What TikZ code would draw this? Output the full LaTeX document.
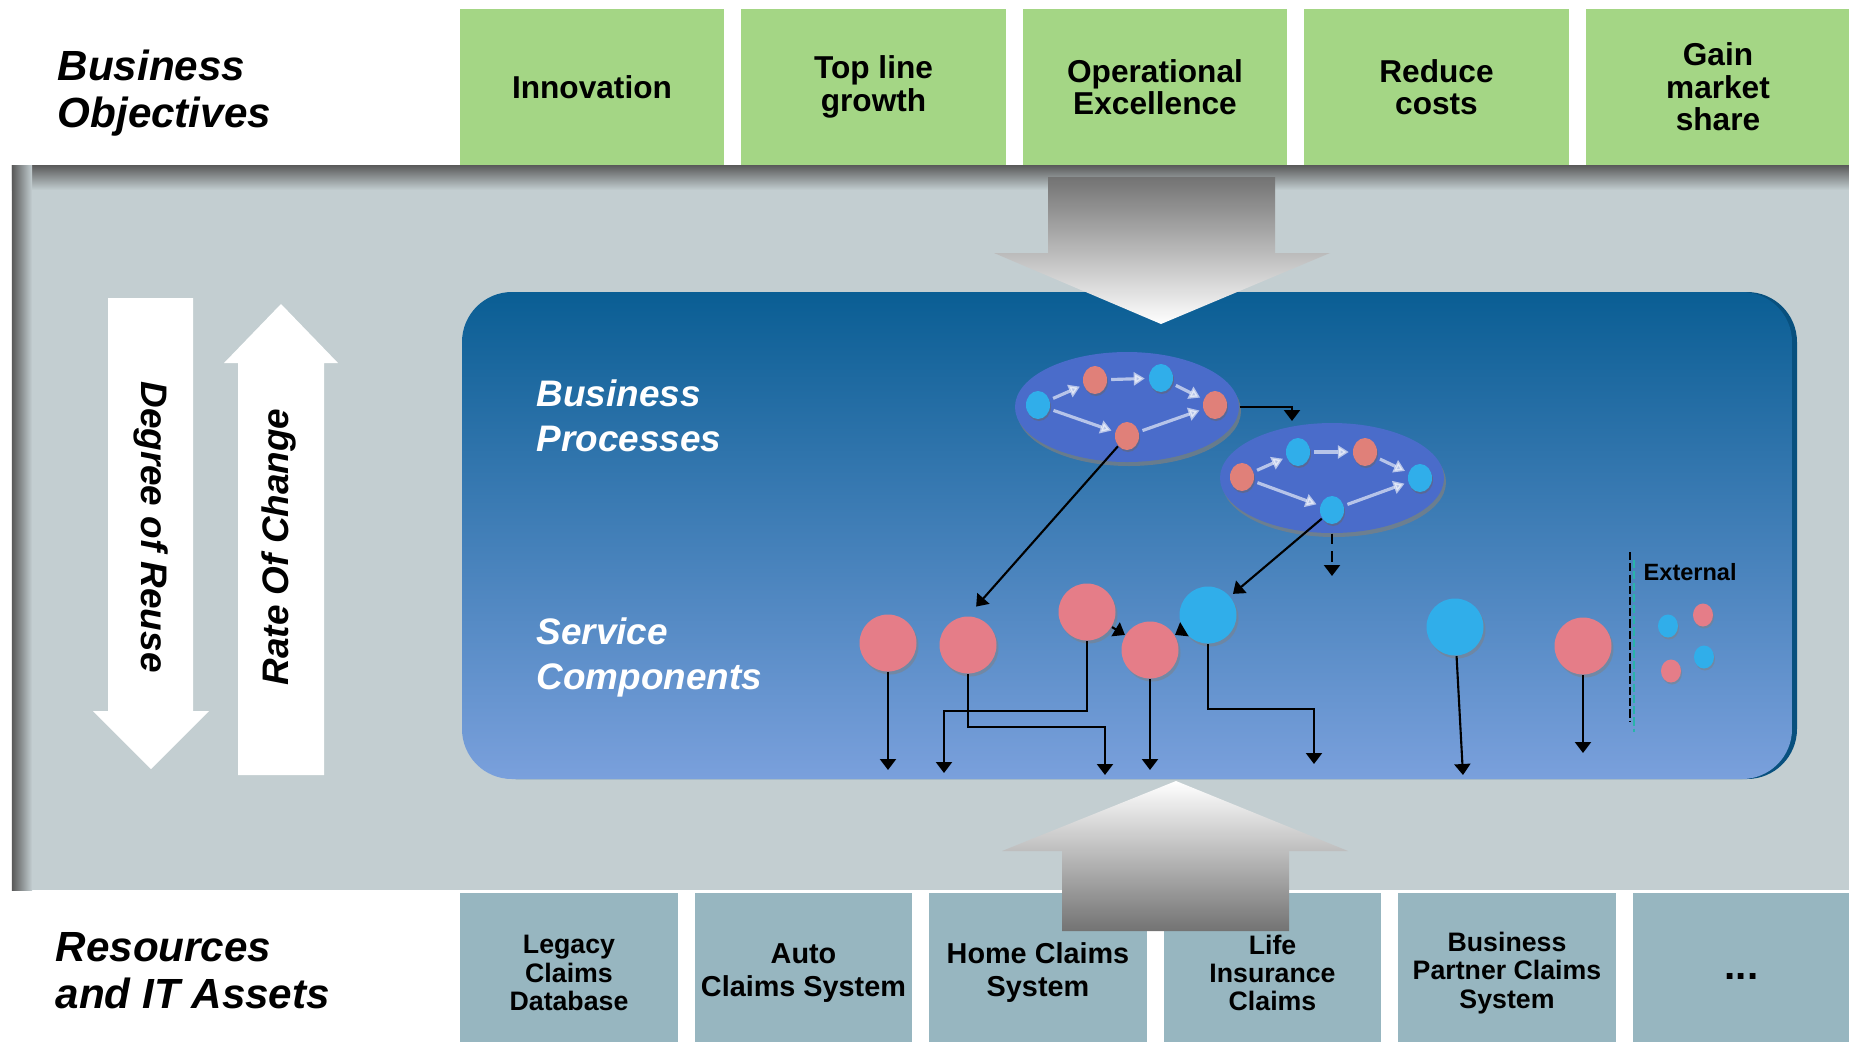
\documentclass[tikz,border=0pt]{standalone}
\usepackage{fontspec}
\setmainfont{Liberation Sans}
\usepackage{tikz}
\usetikzlibrary{shapes.geometric, arrows.meta, positioning, shadows}

\definecolor{goalgreen}{RGB}{164,214,133}
\definecolor{assetblue}{RGB}{151,182,192}
\definecolor{panelgray}{RGB}{195,206,209}
\definecolor{deepblue}{RGB}{10,94,148}
\definecolor{lightblue}{RGB}{122,160,220}
\definecolor{procblue}{RGB}{74,108,202}
\definecolor{svcred}{RGB}{229,125,136}
\definecolor{svccyan}{RGB}{48,174,234}
\definecolor{dotred}{RGB}{224,128,121}
\definecolor{extteal}{RGB}{40,180,170}

\begin{document}
\begin{tikzpicture}[x=1cm, y=-1cm,
        node distance=0.17cm,
        goal/.style={rectangle, fill=goalgreen, minimum width=2.645cm, minimum height=1.56cm, inner sep=0pt, outer sep=0pt, align=center, font=\fontsize{9}{9.2}\selectfont\bfseries},
        asset/.style={rectangle, fill=assetblue, minimum width=2.175cm, minimum height=1.60cm, inner sep=0pt, outer sep=0pt, align=center, font=\fontsize{7.6}{8}\selectfont\bfseries},
        heading/.style={anchor=west, inner sep=0pt, align=left, font=\fontsize{12}{13.4}\selectfont\bfseries\itshape},
        layer/.style={anchor=west, inner sep=0pt, align=left, text=white, font=\fontsize{10.5}{12.8}\selectfont\bfseries\itshape},
        process/.style={ellipse, fill=procblue, minimum width=2.24cm, minimum height=1.10cm, drop shadow={shadow xshift=0.02cm, shadow yshift=-0.04cm, fill=black!50, opacity=0.7}},
        pdot/.style={ellipse, minimum width=0.24cm, minimum height=0.28cm, inner sep=0pt, drop shadow={shadow xshift=0.01cm, shadow yshift=-0.02cm, fill=black!60, opacity=0.5}},
        svc/.style={circle, minimum size=0.57cm, inner sep=0pt, drop shadow={shadow xshift=0.02cm, shadow yshift=-0.03cm, fill=black!50, opacity=0.5}},
        xdot/.style={ellipse, minimum width=0.20cm, minimum height=0.23cm, inner sep=0pt, drop shadow={shadow xshift=0.01cm, shadow yshift=-0.02cm, fill=black!50, opacity=0.5}},
        flow/.style={-{Triangle[length=1.1mm, width=1.6mm]}, line width=0.6pt},
        inflow/.style={-{Triangle[length=1.1mm, width=1.3mm]}, draw=white, opacity=0.6, line width=0.9pt, shorten <=1pt, shorten >=1pt}
    ]
        \useasboundingbox (0,0) rectangle (18.49,10.41);

        % Middle panel
        \fill[panelgray] (0.12,1.65) rectangle (18.49,8.90);
        \shade[top color=black!65, bottom color=panelgray] (0.12,1.65) rectangle (18.49,1.90);
        \shade[left color=black!65, right color=panelgray] (0.12,1.65) rectangle (0.32,8.90);

        % Business objectives
        \node[heading] (objectives) at (0.57,0.93) {Business\\Objectives};
        \node[goal] (g1) at (5.92,0.87) {Innovation};
        \node[goal, right=of g1] (g2) {Top line\\growth};
        \node[goal, right=of g2] (g3) {Operational\\Excellence};
        \node[goal, right=of g3] (g4) {Reduce\\costs};
        \node[goal, right=of g4] (g5) {Gain\\market\\share};

        % Resources and IT assets
        \node[heading] (resources) at (0.55,9.71) {Resources\\and IT Assets};
        \node[asset] (a1) at (5.69,9.73) {Legacy\\Claims\\Database};
        \node[asset, right=of a1, font=\fontsize{8.2}{9.4}\selectfont\bfseries] (a2) {Auto\\Claims System};
        \node[asset, right=of a2, font=\fontsize{8.2}{9.4}\selectfont\bfseries] (a3) {Home Claims\\System};
        \node[asset, right=of a3] (a4) {Life\\Insurance\\Claims};
        \node[asset, right=of a4] (a5) {Business\\Partner Claims\\System};
        \node[asset, right=of a5, font=\fontsize{11.5}{11.5}\selectfont\bfseries, text height=0.12cm, text depth=0pt] (a6) {...};

        % Reuse and change arrows
        \fill[white] (1.08,2.98) -- (1.93,2.98) -- (1.93,7.11) -- (2.09,7.11) -- (1.51,7.69) -- (0.93,7.11) -- (1.08,7.11) -- cycle;
        \fill[white] (2.38,7.75) -- (3.24,7.75) -- (3.24,3.63) -- (3.38,3.63) -- (2.81,3.04) -- (2.24,3.63) -- (2.38,3.63) -- cycle;
        \node[rotate=-90, font=\fontsize{10.5}{12}\selectfont\bfseries\itshape] (reuse) at (1.51,5.27) {Degree of Reuse};
        \node[rotate=90, font=\fontsize{10.5}{12}\selectfont\bfseries\itshape] (change) at (2.79,5.47) {Rate Of Change};

        % Blue panel
        \fill[rounded corners=0.5cm, deepblue!85!black] (4.66,2.92) rectangle (17.97,7.79);
        \shade[rounded corners=0.5cm, top color=deepblue, bottom color=lightblue] (4.62,2.92) rectangle (17.92,7.79);

        % Big gradient arrows
        \shade[top color=black!55, middle color=black!12, bottom color=white] (10.48,1.77) -- (12.75,1.77) -- (12.75,2.53) -- (13.30,2.53) -- (11.61,3.24) -- (9.94,2.53) -- (10.48,2.53) -- cycle;
        \shade[top color=white, middle color=black!12, bottom color=black!55] (11.76,7.81) -- (13.48,8.51) -- (12.89,8.51) -- (12.89,9.31) -- (10.62,9.31) -- (10.62,8.51) -- (10.02,8.51) -- cycle;

        \node[layer] (bp) at (5.36,4.16) {Business\\Processes};
        \node[layer] (sc) at (5.36,6.57) {Service\\Components};

        % Processes
        \node[process] (p1) at (11.27,4.07) {};
        \node[process] (p2) at (13.32,4.78) {};
        \node[pdot, fill=svccyan] (p1a) at (10.38,4.05) {};
        \node[pdot, fill=dotred] (p1b) at (10.95,3.80) {};
        \node[pdot, fill=svccyan] (p1c) at (11.61,3.78) {};
        \node[pdot, fill=dotred] (p1d) at (12.15,4.05) {};
        \node[pdot, fill=dotred] (p1e) at (11.27,4.36) {};
        \node[pdot, fill=dotred] (p2a) at (12.42,4.77) {};
        \node[pdot, fill=svccyan] (p2b) at (12.98,4.52) {};
        \node[pdot, fill=dotred] (p2c) at (13.65,4.52) {};
        \node[pdot, fill=svccyan] (p2d) at (14.20,4.78) {};
        \node[pdot, fill=svccyan] (p2e) at (13.32,5.10) {};
        \foreach \p in {p1, p2} {
            \draw[inflow] (\p a) -- (\p b);
            \draw[inflow] (\p b) -- (\p c);
            \draw[inflow] (\p c) -- (\p d);
            \draw[inflow] (\p a) -- (\p e);
            \draw[inflow] (\p e) -- (\p d);
        }

        % Service components
        \node[svc, fill=svcred] (sA) at (8.88,6.43) {};
        \node[svc, fill=svcred] (sB) at (9.68,6.45) {};
        \node[svc, fill=svcred] (sC) at (10.87,6.12) {};
        \node[svc, fill=svcred] (sD) at (11.50,6.50) {};
        \node[svc, fill=svccyan] (sE) at (12.08,6.15) {};
        \node[svc, fill=svccyan] (sF) at (14.55,6.27) {};
        \node[svc, fill=svcred] (sG) at (15.83,6.46) {};

        % External
        \draw[line width=0.7pt, dash pattern=on 2.3pt off 0.9pt] (16.30,5.52) -- (16.30,7.22);
        \draw[extteal, line width=0.5pt, dash pattern=on 2.3pt off 0.9pt] (16.34,5.60) -- (16.34,7.32);
        \node[anchor=west, inner sep=0pt, font=\fontsize{6.7}{8}\selectfont\bfseries] (ext) at (16.43,5.72) {External};
        \node[xdot, fill=svccyan] (x1) at (16.68,6.26) {};
        \node[xdot, fill=svcred] (x2) at (17.03,6.15) {};
        \node[xdot, fill=svccyan] (x3) at (17.04,6.57) {};
        \node[xdot, fill=svcred] (x4) at (16.71,6.71) {};

        % Links
        \coordinate (q1) at (12.92,4.21);
        \coordinate (q2) at (13.32,5.76);
        \draw[flow] (p1) -| (q1);
        \draw[flow, dash pattern=on 3pt off 2pt] (p2) -- (q2);
        \draw[flow, shorten >=3.5pt] (p1e) -- (sB.north);
        \draw[flow, shorten >=1pt] (p2e) -- (sE);
        \draw[flow] (sC) -- (sD);
        \draw[flow] (sE) -- (sD);

        % Down to the assets
        \coordinate (tA) at (8.88,7.70);
        \coordinate (tB) at (11.05,7.75);
        \coordinate (tC) at (9.44,7.73);
        \coordinate (tD) at (11.50,7.70);
        \coordinate (tE) at (13.14,7.64);
        \coordinate (tF) at (14.63,7.75);
        \coordinate (tG) at (15.83,7.53);
        \draw[flow] (sA) -- (tA);
        \draw[flow] (sB) -- ++(0,0.82) -| (tB);
        \draw[flow] (sC) -- ++(0,0.99) -| (tC);
        \draw[flow] (sD) -- (tD);
        \draw[flow] (sE) -- ++(0,0.94) -| (tE);
        \draw[flow] (sF) -- (tF);
        \draw[flow] (sG) -- (tG);
    \end{tikzpicture}
\end{document}
